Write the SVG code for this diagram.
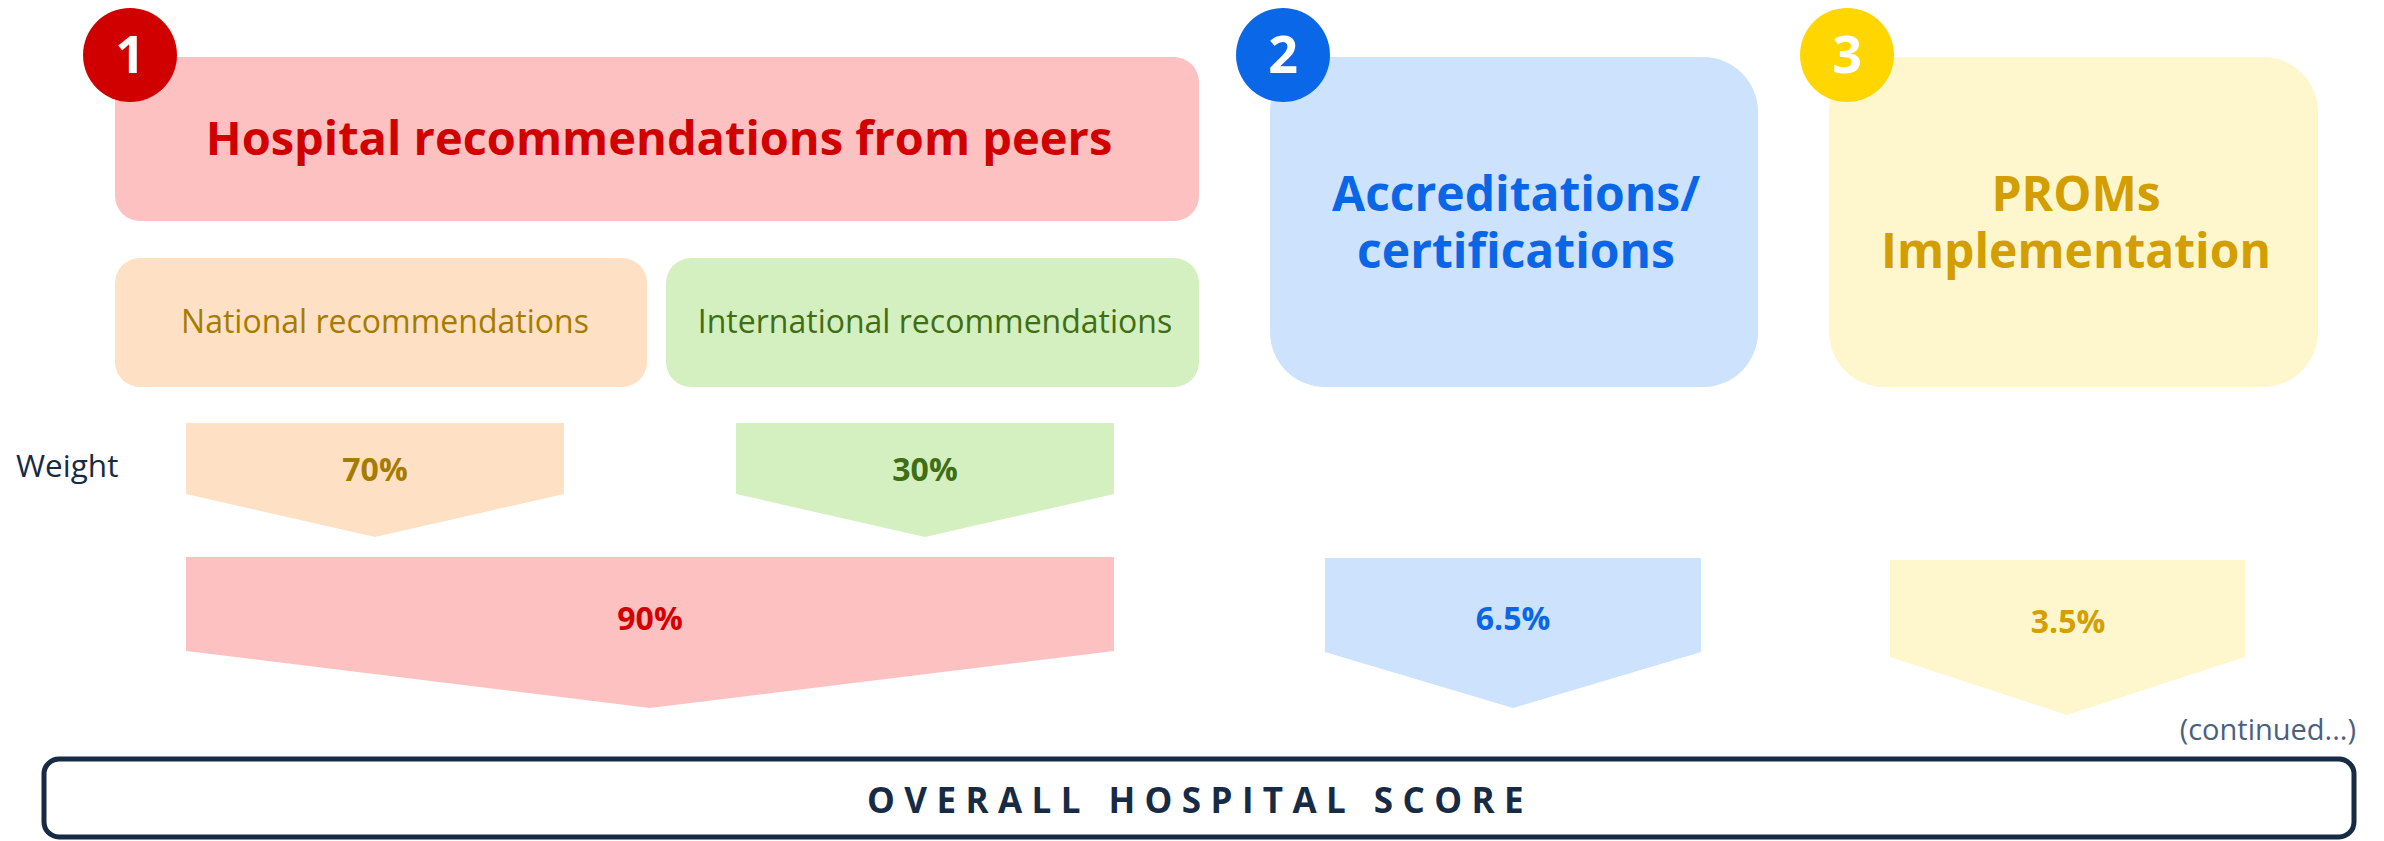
<svg xmlns="http://www.w3.org/2000/svg" width="2384" height="841" viewBox="0 0 2384 841">
<style>
text{font-family:"Open Sans","Noto Sans","Liberation Sans",sans-serif}
.t{font-size:47px;font-weight:700;text-anchor:middle}
.h{font-size:48px;font-weight:700;text-anchor:middle}
.s{font-size:32px;font-weight:400;text-anchor:middle}
.p{font-size:32px;font-weight:700;text-anchor:middle}
.n{font-size:52px;font-weight:700;fill:#fff;text-anchor:middle}
</style>
<rect width="2384" height="841" fill="#fff"/>
<g id="node-hospital-recs">
<rect x="115" y="57" width="1084" height="164" rx="25" fill="#fdc1c1"/>
<text class="t" x="659" y="155" fill="#d10000">Hospital recommendations from peers</text>
<circle cx="130" cy="55" r="47" fill="#d10000"/>
<text class="n" x="130" y="73">1</text>
</g>
<g id="node-national">
<rect x="115" y="258" width="532" height="129" rx="25" fill="#fee0c5"/>
<text class="s" x="385" y="333" fill="#a67c00">National recommendations</text>
</g>
<g id="node-international">
<rect x="666" y="258" width="533" height="129" rx="25" fill="#d4f0c0"/>
<text class="s" x="935" y="333" fill="#3f6e14">International recommendations</text>
</g>
<g id="node-accreditations">
<rect x="1270" y="57" width="488" height="330" rx="55" fill="#cce2fd"/>
<text class="h" fill="#0a66e6"><tspan x="1516" y="211">Accreditations/</tspan><tspan x="1516" y="268">certifications</tspan></text>
<circle cx="1283" cy="55" r="47" fill="#0a68e8"/>
<text class="n" x="1283" y="73">2</text>
</g>
<g id="node-proms">
<rect x="1829" y="57" width="489" height="330" rx="55" fill="#fef6cd"/>
<text class="h" fill="#d29e00"><tspan x="2076" y="211">PROMs</tspan><tspan x="2076" y="268">Implementation</tspan></text>
<circle cx="1847" cy="55" r="47" fill="#ffd600"/>
<text class="n" x="1847" y="73">3</text>
</g>
<text x="16" y="477" font-size="31.5" fill="#172b45">Weight</text>
<g id="connectors">
<g id="w-national">
<polygon points="186,423 564,423 564,494 375,537 186,494" fill="#fee0c5"/>
<text class="p" x="375" y="481" fill="#a67c00">70%</text>
</g>
<g id="w-international">
<polygon points="736,423 1114,423 1114,494 925,537 736,494" fill="#d4f0c0"/>
<text class="p" x="925" y="481" fill="#3f6e14">30%</text>
</g>
<g id="w-hospital">
<polygon points="186,557 1114,557 1114,651 650,708 186,651" fill="#fdc1c1"/>
<text class="p" x="650" y="630" fill="#d40000">90%</text>
</g>
<g id="w-accreditations">
<polygon points="1325,558 1701,558 1701,652 1513,708 1325,652" fill="#cce2fd"/>
<text class="p" x="1513" y="630" fill="#0a66e6">6.5%</text>
</g>
<g id="w-proms">
<polygon points="1890,560 2245,560 2245,657 2067,715 1890,657" fill="#fef6cd"/>
<text class="p" x="2068" y="633" fill="#d4a000">3.5%</text>
</g>
</g>
<text x="2356" y="740" font-size="29" fill="#4a6080" text-anchor="end">(continued...)</text>
<g id="node-overall">
<rect x="44" y="759" width="2310" height="78" rx="15" fill="#fff" stroke="#172b45" stroke-width="5"/>
<text x="1200" y="813" font-size="35" font-weight="700" fill="#172b45" text-anchor="middle" letter-spacing="9.4">OVERALL HOSPITAL SCORE</text>
</g>
</svg>
